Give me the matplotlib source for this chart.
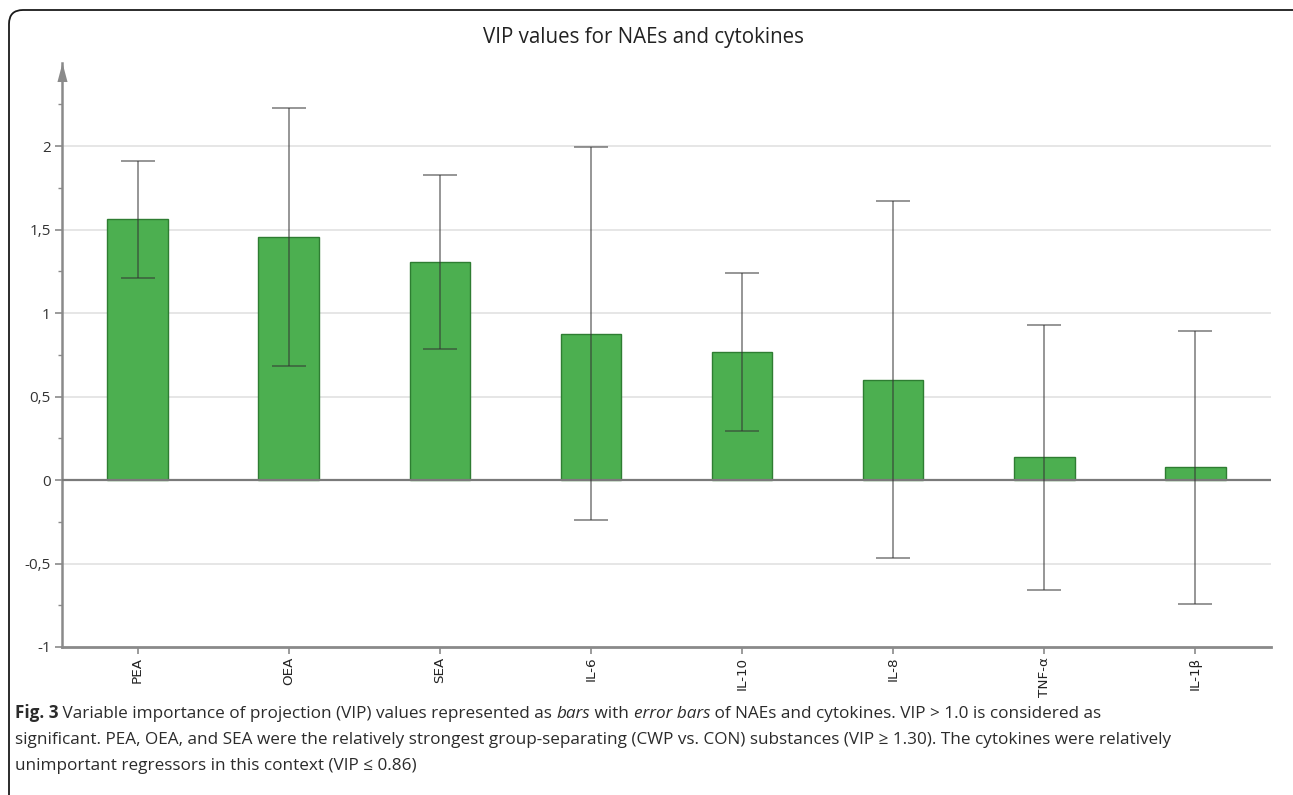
import numpy as np
import matplotlib
matplotlib.use("Agg")
import matplotlib.pyplot as plt
import matplotlib.transforms as mtransforms
from matplotlib.patches import FancyBboxPatch
from matplotlib.ticker import FixedLocator, FuncFormatter

# VIP values with their error bar half-widths
categories = ["PEA", "OEA", "SEA", "IL-6", "IL-10", "IL-8", "TNF-α", "IL-1β"]
vip = [1.56, 1.455, 1.305, 0.875, 0.768, 0.60, 0.135, 0.075]
vip_err = [0.35, 0.775, 0.52, 1.117, 0.473, 1.07, 0.795, 0.815]

title = "VIP values for NAEs and cytokines"
caption_lines = [
    [("Fig. 3", "bold", "normal"),
     (" Variable importance of projection (VIP) values represented as ", "normal", "normal"),
     ("bars", "normal", "italic"),
     (" with ", "normal", "normal"),
     ("error bars", "normal", "italic"),
     (" of NAEs and cytokines. VIP > 1.0 is considered as", "normal", "normal")],
    [("significant. PEA, OEA, and SEA were the relatively strongest group-separating "
      "(CWP vs. CON) substances (VIP ≥ 1.30). The cytokines were relatively", "normal", "normal")],
    [("unimportant regressors in this context (VIP ≤ 0.86)", "normal", "normal")],
]

W, H = 1293, 795
fig = plt.figure(figsize=(W / 100, H / 100), dpi=100)
fig.patch.set_facecolor("white")

# rounded frame around the figure panel (pixel coordinates)
frame = FancyBboxPatch((9, -40), 1310, H - 10 + 40, boxstyle="round,pad=0,rounding_size=14",
                       transform=mtransforms.IdentityTransform(), fill=False,
                       edgecolor="#1a1a1a", linewidth=1.3)
fig.patches.append(frame)

ax = fig.add_axes([62 / W, 1 - 647 / H, (1271 - 62) / W, (647 - 62.5) / H])
x = np.arange(len(categories))

axis_grey = "#8a8a8a"
for yv in [-0.5, 0.5, 1.0, 1.5, 2.0]:
    ax.axhline(yv, color="#e4e4e4", lw=1.3, zorder=0)

ax.bar(x, vip, width=0.4, color="#4caf50", edgecolor="#2e7d32", linewidth=1.0, zorder=2)
ax.axhline(0, color="#7a7a7a", lw=1.6, zorder=3)
ax.errorbar(x, vip, yerr=vip_err, fmt="none", ecolor=(0.2, 0.2, 0.2, 0.6),
            elinewidth=1.2, capsize=12.5, capthick=1.2, zorder=4)

ax.set_xlim(-0.5, 7.5)
ax.set_ylim(-1, 2.5)

for side in ["top", "right"]:
    ax.spines[side].set_visible(False)
ax.spines["left"].set_color(axis_grey)
ax.spines["left"].set_linewidth(1.8)
ax.spines["bottom"].set_color(axis_grey)
ax.spines["bottom"].set_linewidth(2.0)

# arrow head at the top of the y axis
head = [(0, 1), (-0.53, -1), (0.53, -1), (0, 1)]
shift = mtransforms.ScaledTranslation(0, -0.095, fig.dpi_scale_trans)
ax.plot([0], [1], marker=head, markersize=13.7, color=axis_grey, markeredgewidth=0,
        transform=ax.transAxes + shift, clip_on=False, zorder=5)

ax.yaxis.set_major_locator(FixedLocator([-1, -0.5, 0, 0.5, 1, 1.5, 2]))
ax.yaxis.set_minor_locator(FixedLocator([-0.75, -0.25, 0.25, 0.75, 1.25, 1.75, 2.25]))
ax.yaxis.set_major_formatter(FuncFormatter(lambda v, p: ("%g" % v).replace(".", ",")))
ax.tick_params(axis="y", which="major", length=5, width=1.2, color=axis_grey,
               labelsize=11, labelcolor="#333333", pad=3)
ax.tick_params(axis="y", which="minor", length=3, width=1.0, color=axis_grey)
for lab in ax.get_yticklabels():
    lab.set_family(["Open Sans", "DejaVu Sans"])

ax.set_xticks(x)
ax.set_xticklabels(categories, rotation=90, fontsize=9.7, color="#222222",
                   family="DejaVu Sans")
ax.tick_params(axis="x", length=5, width=1.2, color=axis_grey, pad=2)

fig.text(643 / W, 1 - 38 / H, title, ha="center", va="center", fontsize=14.8,
         color="#222222", family=["Open Sans", "DejaVu Sans"])

# caption built piece by piece so bold and italic runs sit on one line
caption_font = ["Open Sans", "DejaVu Sans"]
line_y = [713, 740, 766]
for pieces, yp in zip(caption_lines, line_y):
    prev = None
    for txt, weight, style in pieces:
        kw = dict(fontsize=12.3, color="#2b2b2b", family=caption_font,
                  weight=weight, style=style, annotation_clip=False)
        if prev is None:
            prev = ax.annotate(txt, xy=(15, H - yp), xycoords="figure pixels",
                               ha="left", va="center", **kw)
        else:
            prev = ax.annotate(txt, xy=(1, 0), xycoords=prev,
                               ha="left", va="bottom", **kw)

fig.savefig("out.png", dpi=100)
